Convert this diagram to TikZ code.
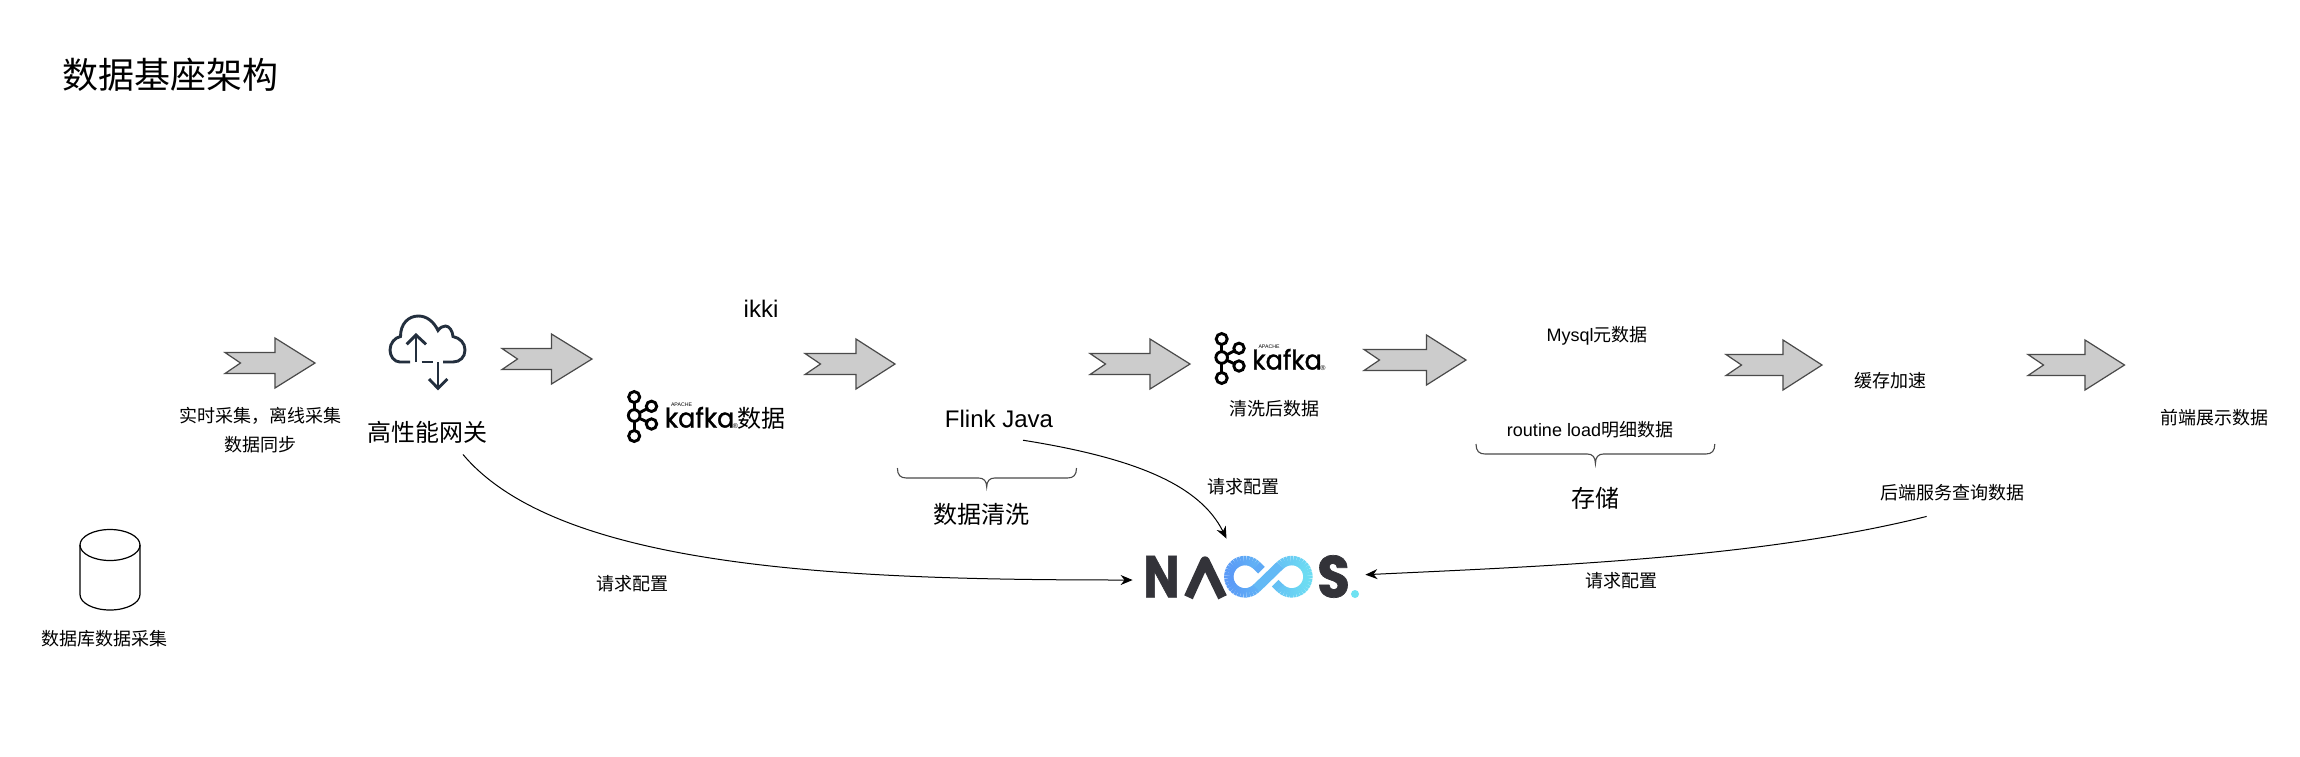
\documentclass[tikz,border=0pt]{standalone}
\usepackage{fontspec}
\usetikzlibrary{arrows.meta,calc}
\setmainfont{Liberation Sans}
\newfontfamily\cjk{Noto Sans CJK SC}
\newfontfamily\logofont[BoldFeatures={FakeBold=1.2}]{Poppins}
\newfontfamily\kafkafont[FakeBold=1.3]{Poppins}
\definecolor{arrowgray}{HTML}{CCCCCC}
\definecolor{arrowline}{HTML}{4A4A4A}
\definecolor{cloudink}{HTML}{232F3E}
\definecolor{nacosink}{HTML}{333339}
\definecolor{nacosblue}{HTML}{5A97F7}
\definecolor{nacoscyan}{HTML}{6EE2F2}
\newcommand\sz[1]{\fontsize{#1}{#1}\selectfont}
\tikzset{
  label18/.style={inner sep=0pt,align=center,font=\sz{9}\cjk},
  label24/.style={inner sep=0pt,align=center,font=\sz{12}\cjk},
  connector/.style={draw=black,line width=0.5pt,-{Stealth[length=6pt,width=5pt]}},
  flowshape/.style={fill=arrowgray,draw=arrowline,line width=0.6pt,line join=miter},
  bracepath/.style={draw=arrowline,line width=0.55pt},
  cloudstroke/.style={draw=cloudink,line width=1.45pt,line cap=butt,line join=miter},
  ring/.style={draw=black,line width=1.45pt},
  nacosletter/.style={inner sep=0pt,text=nacosink,font=\sz{29.5}\logofont\bfseries},
  nacosstroke/.style={line width=4.7pt},
  kafkalogo/.pic={
    \draw[ring] (7.7,6) circle[radius=5.5];
    \draw[ring] (7.7,24.5) circle[radius=5.8];
    \draw[ring] (7.7,45) circle[radius=5.5];
    \draw[ring] (25,15.3) circle[radius=5.2];
    \draw[ring] (25,33) circle[radius=5.2];
    \draw[ring] (7.7,11.5) -- (7.7,18.7);
    \draw[ring] (7.7,30.3) -- (7.7,39.5);
    \draw[ring] (12.8,21.8) -- (20.3,17.8);
    \draw[ring] (12.8,27.2) -- (20.3,30.8);
    \node[anchor=base west,inner sep=0pt,xscale=.95,font=\sz{13.5}\kafkafont] (-word) at (38,36.5) {kafka};
    \node[inner sep=0pt,font=\sz{2.6}] (-apache) at (55,13.5) {APACHE};
    \node[inner sep=0pt,font=\sz{3.5}] (-reg) at (109,35) {®};
  }
}
\newcommand\flowarrow[4]{% tail x, head base x, tip x, centre y
  \draw[flowshape] (#1,#4-10.5) -- (#2,#4-10.5) -- (#2,#4-25) -- (#3,#4) -- (#2,#4+25)
    -- (#2,#4+10.5) -- (#1,#4+10.5) -- (#1+15.5,#4) -- cycle;}
\newcommand\hbrace[6]{% left x, right x, tip x, top y, bar y, tip y
  \draw[bracepath] (#1,#4) .. controls (#1,#5-3) and (#1+3,#5) .. (#1+9,#5)
    -- (#3-8,#5) .. controls (#3-3,#5) and (#3,#5+3) .. (#3,#6)
    .. controls (#3,#5+3) and (#3+3,#5) .. (#3+8,#5)
    -- (#2-9,#5) .. controls (#2-3,#5) and (#2,#5-3) .. (#2,#4);}
\begin{document}
\begin{tikzpicture}[x=0.5pt,y=-0.5pt]
\useasboundingbox (0,0) rectangle (2300,756);
\fill[white] (0,0) rectangle (2300,756);

% title
\node[anchor=west,inner sep=0pt,font=\sz{18}\cjk] (title) at (62,75) {数据基座架构};

% flow arrows
\flowarrow{225}{275}{315}{363}
\flowarrow{502}{551.5}{592}{359}
\flowarrow{805}{856}{895}{364}
\flowarrow{1090}{1150}{1190}{364}
\flowarrow{1364}{1426.5}{1466}{360}
\flowarrow{1726}{1783}{1822}{365}
\flowarrow{2028}{2085}{2124.5}{365}

% cloud icon
\draw[cloudstroke] (410,362) -- (400,362) .. controls (394,362) and (390,356) .. (390,350)
  .. controls (390,343) and (395,337.5) .. (400.5,336.5)
  .. controls (400.5,324) and (408,316) .. (418.5,316)
  .. controls (427,316) and (434,322) .. (438,330.5)
  .. controls (440,327.5) and (443,326) .. (445.5,326)
  .. controls (449.5,326) and (452.5,331) .. (453,336.5)
  .. controls (460,338) and (465,343) .. (465,350)
  .. controls (465,357) and (460,362) .. (453,362) -- (443,362);
\draw[cloudstroke] (421.7,362) -- (433.3,362);
\draw[cloudstroke] (416,362) -- (416,335);
\draw[cloudstroke] (406.7,344.3) -- (416,335) -- (426,344.3);
\draw[cloudstroke] (438,362) -- (438,388.3);
\draw[cloudstroke] (429,379) -- (438,388.3) -- (447.3,379);

% kafka logos
\pic (kafkaA) at (626.5,391) {kafkalogo};
\pic (kafkaB) at (1214,333) {kafkalogo};

% cylinder
\draw[line width=0.6pt] (110,545) ellipse[x radius=30,y radius=15.5];
\draw[line width=0.6pt] (80,545) -- (80,594.5) arc[start angle=180,end angle=0,x radius=30,y radius=15.5] -- (140,545);

% braces
\hbrace{897.4}{1076.5}{986.7}{468}{478}{487}
\hbrace{1476}{1714.8}{1595.4}{444}{454}{463.7}

% labels
\node[inner sep=0pt,font=\sz{12}] (ikki) at (761,309) {ikki};
\node[label18] (collect) at (260,415.7) {实时采集，离线采集};
\node[label18] (sync) at (260,445) {数据同步};
\node[label24] (gw) at (427.5,432) {高性能网关};
\node[label24] (kafkaAtext) at (761,418) {数据};
\node[inner sep=0pt,font=\sz{12}] (flink) at (999,419) {Flink Java};
\node[label24] (clean) at (981.6,514) {数据清洗};
\node[label18] (cleaned) at (1274.5,408.7) {清洗后数据};
\node[inner sep=0pt,font=\sz{9}] (mysql) at (1597,336) {Mysql{\cjk 元数据}};
\node[inner sep=0pt,font=\sz{9}] (routine) at (1590,430) {routine load{\cjk 明细数据}};
\node[label24] (store) at (1595.4,498) {存储};
\node[label18] (cache) at (1890.8,381) {缓存加速};
\node[label18] (front) at (2214.3,417.7) {前端展示数据};
\node[label18] (back) at (1952.6,492.7) {后端服务查询数据};
\node[label18] (dbtext) at (104,639) {数据库数据采集};
\node[label18] (reqA) at (632.6,584) {请求配置};
\node[label18] (reqB) at (1243,486.7) {请求配置};
\node[label18] (reqC) at (1621.4,580.7) {请求配置};

% nacos logo
\node[minimum width=116pt,minimum height=38pt,inner sep=0pt] (nacos) at (1249,577) {};
\node[nacosletter,anchor=base,xscale=.82] (nacosN) at (1161.5,597.3) {N};
\draw[nacosstroke,draw=nacosink,line join=round] (1188.5,597.3) -- (1205,561) -- (1222.5,597.3);
\foreach \a in {45,55,...,305}{
  \pgfmathsetmacro\p{100*(1245+16.2*cos(\a)-1225)/90}
  \draw[nacosstroke,color={nacoscyan!\p!nacosblue}]
    ({1245+16.2*cos(\a)},{576.7-16.2*sin(\a)}) -- ({1245+16.2*cos(\a+11)},{576.7-16.2*sin(\a+11)});
}
\foreach \a in {-135,-125,...,125}{
  \pgfmathsetmacro\p{100*(1291.7+16.2*cos(\a)-1225)/90}
  \draw[nacosstroke,color={nacoscyan!\p!nacosblue}]
    ({1291.7+16.2*cos(\a)},{576.7+16.2*sin(\a)}) -- ({1291.7+16.2*cos(\a+11)},{576.7+16.2*sin(\a+11)});
}
\draw[nacosstroke,color=nacosblue!55!nacoscyan] (1256.5,588.2) -- (1280.2,565.2);
\draw[nacosstroke,color=nacosblue!75!nacoscyan] (1256.5,565.2) -- (1261.5,570.2);
\draw[nacosstroke,color=nacosblue!45!nacoscyan] (1280.2,588.2) -- (1275.2,583.2);
\node[nacosletter,anchor=base,xscale=.9] (nacosS) at (1333.5,597.3) {S};
\fill[nacoscyan] (1355,594) circle[radius=4];

% connectors
\draw[connector] ($(gw.south)+(35.5,11)$) .. controls (560,570) and (850,580) .. ($(nacos.west)+(0,3)$);
\draw[connector] ($(flink.south)+(24,12)$) .. controls (1135,458) and (1200,485) .. ($(nacos.north)+(-22.5,0)$);
\draw[connector] ($(back.south)+(-26,15)$) .. controls (1760,558) and (1550,566) .. ($(nacos.east)+(0,-2.3)$);
\end{tikzpicture}
\end{document}
